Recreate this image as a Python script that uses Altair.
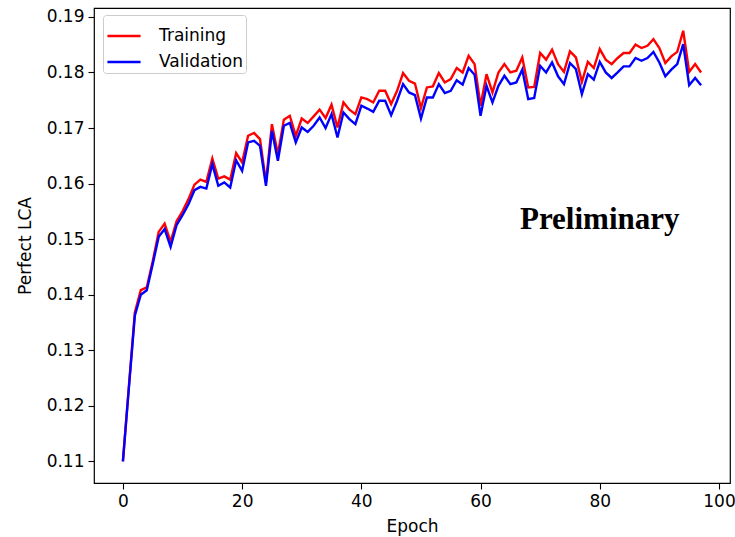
import altair as alt
import pandas as pd

epochs = list(range(98))

training = [
    0.1100, 0.1235, 0.1368, 0.1408, 0.1413, 0.1460, 0.1513, 0.1528, 0.1495, 0.1532,
    0.1550, 0.1572, 0.1598, 0.1607, 0.1603, 0.1645, 0.1609, 0.1613, 0.1607, 0.1655,
    0.1638, 0.1686, 0.1691, 0.1680, 0.1602, 0.1707, 0.1653, 0.1715, 0.1722, 0.1686,
    0.1717, 0.1709, 0.1721, 0.1733, 0.1718, 0.1742, 0.1701, 0.1746, 0.1733, 0.1725,
    0.1755, 0.1752, 0.1746, 0.1767, 0.1767, 0.1743, 0.1767, 0.1799, 0.1785, 0.1780,
    0.1736, 0.1773, 0.1775, 0.1799, 0.1782, 0.1788, 0.1808, 0.1800, 0.1830, 0.1815,
    0.1740, 0.1797, 0.1764, 0.1800, 0.1815, 0.1800, 0.1803, 0.1827, 0.1773, 0.1774,
    0.1835, 0.1823, 0.1841, 0.1815, 0.1801, 0.1838, 0.1827, 0.1783, 0.1819, 0.1808,
    0.1842, 0.1823, 0.1815, 0.1826, 0.1835, 0.1835, 0.1850, 0.1844, 0.1848, 0.1860,
    0.1844, 0.1817, 0.1829, 0.1837, 0.1875, 0.1801, 0.1815, 0.1800,
]

validation = [
    0.1100, 0.1232, 0.1362, 0.1400, 0.1408, 0.1455, 0.1504, 0.1518, 0.1486, 0.1525,
    0.1543, 0.1563, 0.1588, 0.1594, 0.1591, 0.1635, 0.1596, 0.1602, 0.1593, 0.1642,
    0.1623, 0.1674, 0.1677, 0.1668, 0.1596, 0.1695, 0.1641, 0.1704, 0.1709, 0.1674,
    0.1701, 0.1693, 0.1704, 0.1719, 0.1700, 0.1725, 0.1683, 0.1728, 0.1716, 0.1707,
    0.1740, 0.1735, 0.1729, 0.1749, 0.1749, 0.1723, 0.1749, 0.1779, 0.1764, 0.1759,
    0.1717, 0.1755, 0.1755, 0.1779, 0.1763, 0.1767, 0.1786, 0.1778, 0.1808, 0.1796,
    0.1722, 0.1776, 0.1746, 0.1776, 0.1794, 0.1779, 0.1782, 0.1805, 0.1752, 0.1754,
    0.1812, 0.1800, 0.1818, 0.1793, 0.1779, 0.1817, 0.1806, 0.1761, 0.1797, 0.1787,
    0.1819, 0.1800, 0.1790, 0.1800, 0.1811, 0.1811, 0.1826, 0.1821, 0.1826, 0.1837,
    0.1818, 0.1793, 0.1805, 0.1815, 0.1851, 0.1777, 0.1790, 0.1777,
]

series_names = ["Training", "Validation"]
series_colors = ["#ff0000", "#0000ff"]
x_ticks = [0, 20, 40, 60, 80, 100]
y_ticks = [0.11, 0.12, 0.13, 0.14, 0.15, 0.16, 0.17, 0.18, 0.19]

annotation_text = ["Preliminary"]
annotation_x = [80]
annotation_y = [0.1535]

rows = []
for name, vals in zip(series_names, [training, validation]):
    for e, v in zip(epochs, vals):
        rows.append({"Epoch": e, "value": v, "series": name})
df = pd.DataFrame(rows)

ann = pd.DataFrame({"label": annotation_text, "x": annotation_x, "y": annotation_y})

FONT = "DejaVu Sans"

x_scale = alt.Scale(domain=[-4.85, 101.85], nice=False, zero=False)
y_scale = alt.Scale(domain=[0.1061, 0.1916], nice=False, zero=False)

lines = alt.Chart(df).mark_line(strokeWidth=2.4, clip=True).encode(
    x=alt.X("Epoch:Q", scale=x_scale,
            axis=alt.Axis(values=x_ticks, title="Epoch", format="d")),
    y=alt.Y("value:Q", scale=y_scale,
            axis=alt.Axis(values=y_ticks, title="Perfect LCA", format=".2f")),
    color=alt.Color(
        "series:N",
        scale=alt.Scale(domain=series_names, range=series_colors),
        legend=alt.Legend(
            title=None,
            orient="none",
            legendX=9,
            legendY=7,
            symbolType="stroke",
            symbolSize=1100,
            symbolStrokeWidth=2.4,
            labelFontSize=17,
            labelFont=FONT,
            labelColor="black",
            labelOffset=17,
            rowPadding=-12,
            padding=3,
            strokeColor="#cccccc",
            fillColor="white",
            cornerRadius=3,
        ),
    ),
)

text = alt.Chart(ann).mark_text(
    font="Liberation Serif", fontWeight="bold", fontSize=31, color="black",
    align="center", baseline="middle",
).encode(
    x=alt.X("x:Q", scale=x_scale),
    y=alt.Y("y:Q", scale=y_scale),
    text="label:N",
)

chart = alt.layer(lines, text).properties(
    width=636,
    height=475,
    autosize=alt.AutoSizeParams(type="none"),
    padding={"left": 94, "top": 8, "right": 5, "bottom": 54},
).configure_view(
    stroke="black", strokeWidth=1.2,
).configure_axis(
    grid=False,
    domain=False,
    tickColor="black",
    tickSize=6,
    tickWidth=1.1,
    labelFont=FONT,
    labelFontSize=17,
    labelColor="black",
    labelPadding=4,
    titleFont=FONT,
    titleFontSize=17,
    titleFontWeight="normal",
    titleColor="black",
).configure_axisY(
    titlePadding=12,
).configure_axisX(
    titlePadding=9,
)

chart.save("out.html", embed_options={"renderer": "svg", "actions": False})
